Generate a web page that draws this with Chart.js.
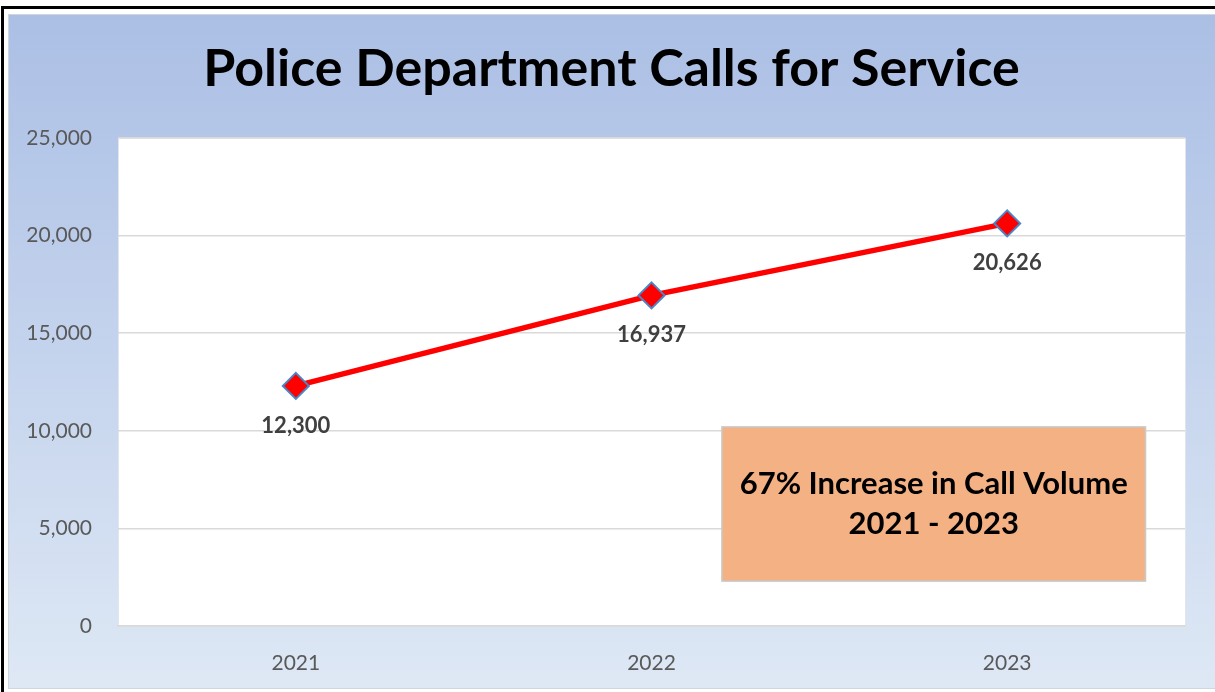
<!DOCTYPE html>
<html>
<head>
<meta charset="utf-8">
<script src="https://cdn.jsdelivr.net/npm/chart.js@4.4.1/dist/chart.umd.min.js"></script>
<style>
  html, body { margin: 0; padding: 0; background: #fff; }
  #wrap { width: 1215px; height: 692px; }
</style>
</head>
<body>
<div id="wrap"><canvas id="callsChart" width="1215" height="692"></canvas></div>
<script>
// Chart values
const years = ['2021', '2022', '2023'];
const calls = [12300, 16937, 20626];
const yTicks = [0, 5000, 10000, 15000, 20000, 25000];
const chartTitle = 'Police Department Calls for Service';
const noteLines = ['67% Increase in Call Volume', '2021 - 2023'];

const FONT = 'Lato, "Open Sans", sans-serif';
const fmt = v => Number(v).toLocaleString('en-US');

// background: outer frame, blue gradient, white plot area, title
const backdrop = {
  id: 'backdrop',
  beforeDraw(chart) {
    const { ctx, width, height, chartArea: a } = chart;
    ctx.save();
    ctx.fillStyle = '#ffffff';
    ctx.fillRect(0, 0, width, height);
    // black frame (top and left)
    ctx.fillStyle = '#000000';
    ctx.fillRect(1, 6, width - 1, 3);
    ctx.fillRect(1, 6, 3, height - 6);
    // chart area gradient
    const g = ctx.createLinearGradient(0, 14, 0, 689);
    g.addColorStop(0, '#abbfe5');
    g.addColorStop(1, '#dee8f5');
    ctx.fillStyle = g;
    ctx.fillRect(8, 14, width - 8, 675);
    ctx.strokeStyle = '#d0d6de';
    ctx.lineWidth = 1;
    ctx.strokeRect(8.5, 14.5, width - 8, 674);
    // plot area
    ctx.fillStyle = '#ffffff';
    ctx.fillRect(a.left, a.top, a.right - a.left, a.bottom - a.top);
    ctx.strokeStyle = '#e2e6ec';
    ctx.strokeRect(a.left + 0.5, a.top + 0.5, a.right - a.left, a.bottom - a.top);
    // title, centred on the blue panel
    ctx.fillStyle = '#000000';
    ctx.font = 'bold 52px ' + FONT;
    ctx.textAlign = 'center';
    ctx.textBaseline = 'middle';
    ctx.fillText(chartTitle, (width + 8) / 2, 69);
    ctx.restore();
  }
};

// value labels below points and the note box
const extras = {
  id: 'extras',
  afterDatasetsDraw(chart) {
    const { ctx, chartArea: a } = chart;
    const meta = chart.getDatasetMeta(0);
    ctx.save();
    ctx.font = 'bold 22px ' + FONT;
    ctx.fillStyle = '#404040';
    ctx.textAlign = 'center';
    ctx.textBaseline = 'middle';
    meta.data.forEach((pt, i) => {
      ctx.fillText(fmt(calls[i]), pt.x, pt.y + 40);
    });

    const w = a.right - a.left, h = a.bottom - a.top;
    const bx = a.left + w * 0.566, by = a.top + h * 0.592;
    const bw = w * 0.397, bh = h * 0.316;
    ctx.fillStyle = '#f4b183';
    ctx.fillRect(bx, by, bw, bh);
    ctx.strokeStyle = '#c9c9c9';
    ctx.lineWidth = 1.5;
    ctx.strokeRect(bx, by, bw, bh);
    ctx.fillStyle = '#000000';
    ctx.font = 'bold 31px ' + FONT;
    ctx.fillText(noteLines[0], bx + bw / 2, by + bh * 0.37);
    ctx.fillText(noteLines[1], bx + bw / 2, by + bh * 0.63);
    ctx.restore();
  }
};

const ctx = document.getElementById('callsChart').getContext('2d');
const callsChart = new Chart(ctx, {
  type: 'line',
  data: {
    labels: years,
    datasets: [{
      label: 'Calls for Service',
      data: calls,
      borderColor: '#ff0000',
      borderWidth: 5.5,
      tension: 0,
      pointStyle: 'rectRot',
      pointRadius: 13,
      pointHoverRadius: 13,
      pointBackgroundColor: '#ff0000',
      pointBorderColor: '#4a86c8',
      pointBorderWidth: 2
    }]
  },
  options: {
    responsive: false,
    animation: false,
    layout: { padding: { left: 20, right: 30, top: 138, bottom: 0 } },
    plugins: {
      legend: { display: false },
      tooltip: { enabled: false },
      title: { display: false }
    },
    scales: {
      x: {
        offset: true,
        grid: { display: false },
        border: { display: true, color: '#d9d9d9', width: 1.5 },
        ticks: { color: '#595959', font: { family: FONT, size: 21 }, padding: 17 },
        afterFit(scale) { scale.height = 66; }
      },
      y: {
        min: 0,
        max: 25000,
        grid: { color: '#d9d9d9', lineWidth: 1.5, drawTicks: false },
        border: { display: false },
        afterBuildTicks(scale) { scale.ticks = yTicks.map(v => ({ value: v })); },
        ticks: {
          color: '#595959',
          font: { family: FONT, size: 21 },
          padding: 26,
          callback: v => fmt(v)
        },
        afterFit(scale) { scale.width = 98; }
      }
    }
  },
  plugins: [backdrop, extras]
});
</script>
</body>
</html>
